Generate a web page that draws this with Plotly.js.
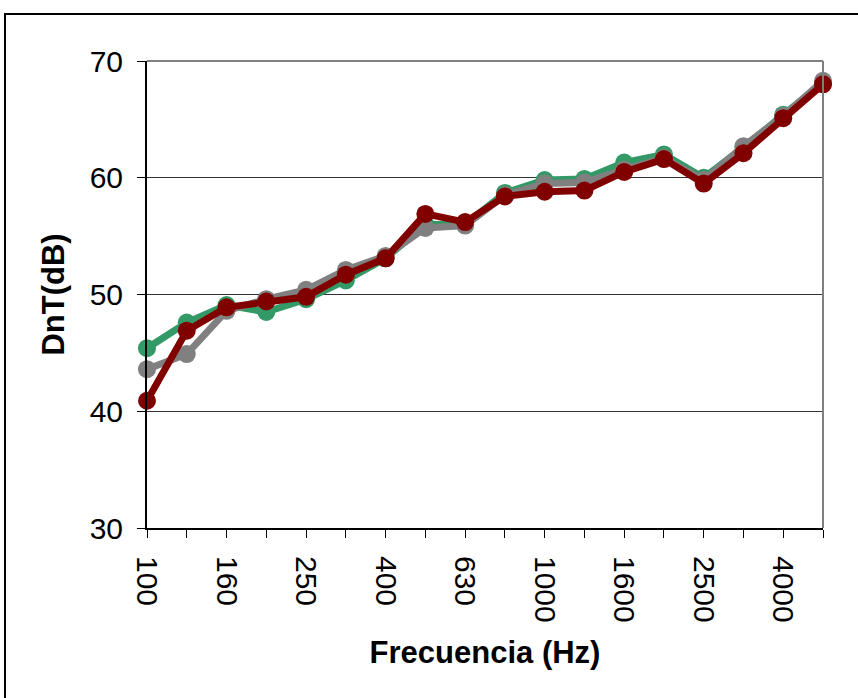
<!DOCTYPE html>
<html>
<head>
<meta charset="utf-8">
<script src="https://cdn.plot.ly/plotly-3.0.1.min.js"></script>
<style>
html,body{margin:0;padding:0;background:#fff;}
#frame{position:absolute;left:4px;top:13px;width:870px;height:700px;border-left:2px solid #000;border-top:2px solid #000;box-sizing:border-box;}
#chart{position:absolute;left:0;top:0;width:858px;height:698px;}
</style>
</head>
<body>
<div id="frame"></div>
<div id="chart"></div>
<script>
const frequencies = ['100','125','160','200','250','315','400','500','630','800','1000','1250','1600','2000','2500','3150','4000','5000'];
const tickLabels = ['100','','160','','250','','400','','630','','1000','','1600','','2500','','4000',''];
const seriesGreen = [45.4,47.6,49.1,48.5,49.6,51.2,53.1,56.0,56.0,58.7,59.8,59.9,61.3,62.0,60.0,62.6,65.4,68.1];
const seriesGray  = [43.6,44.9,48.6,49.6,50.4,52.1,53.3,55.7,55.9,58.5,59.5,59.6,60.7,61.7,59.8,62.7,65.3,68.3];
const seriesRed   = [40.9,46.9,48.9,49.4,49.8,51.7,53.1,56.9,56.2,58.4,58.8,58.9,60.5,61.6,59.5,62.1,65.1,68.0];

function tr(y, color){
  return {x: frequencies, y: y, type:'scatter', mode:'lines+markers', cliponaxis:false,
    line:{color:color, width:7}, marker:{color:color, size:18}, showlegend:false, hoverinfo:'skip'};
}
const data = [tr(seriesGreen,'#339966'), tr(seriesGray,'#808080'), tr(seriesRed,'#800000')];

const layout = {
  width:858, height:698,
  margin:{l:147, r:35, t:61, b:170},
  paper_bgcolor:'rgba(0,0,0,0)', plot_bgcolor:'#fff',
  font:{family:'Liberation Sans, Arial, sans-serif', color:'#000', size:30},
  xaxis:{type:'category', range:[0,17], tickmode:'array', tickvals:frequencies, ticktext:tickLabels,
    tickangle:90, ticks:'outside', ticklen:8, tickcolor:'#000', tickwidth:1, ticklabelstandoff:12,
    showline:true, linecolor:'#000', linewidth:2, showgrid:false, zeroline:false,
    tickfont:{size:30},
    title:{text:'<b>Frecuencia (Hz)</b>', font:{size:31}, standoff:20}},
  yaxis:{range:[30,70], tickvals:[30,40,50,60,70], ticks:'outside', ticklen:8, tickcolor:'#000', tickwidth:1,
    ticklabelstandoff:8,
    showline:true, linecolor:'#000', linewidth:2, showgrid:true, gridcolor:'#333', gridwidth:1, zeroline:false,
    tickfont:{size:30},
    title:{text:'<b>DnT(dB)</b>', font:{size:31}, standoff:16}},
  shapes:[
    {type:'line', xref:'paper', yref:'paper', x0:0, x1:1, y0:1, y1:1, line:{color:'#808080', width:2}},
    {type:'line', xref:'paper', yref:'paper', x0:1, x1:1, y0:0, y1:1, line:{color:'#808080', width:2}}
  ]
};
Plotly.newPlot('chart', data, layout, {staticPlot:true, displayModeBar:false});
</script>
</body>
</html>
